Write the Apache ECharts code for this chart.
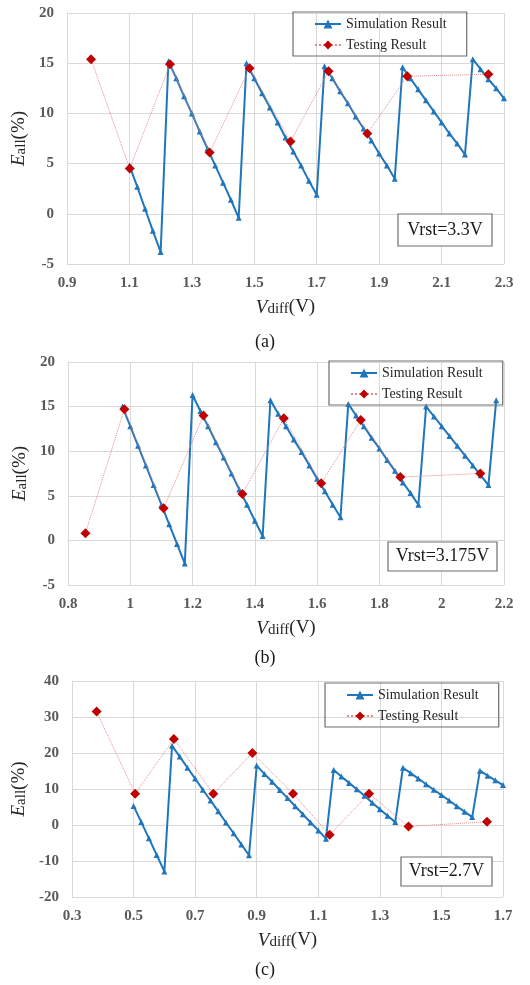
<!DOCTYPE html>
<html lang="en">
  <head>
    <meta charset="UTF-8" />
    <title>Eall vs Vdiff</title>
    <script src="https://cdn.jsdelivr.net/npm/echarts@6/dist/echarts.min.js"></script>
    <style>
      html, body { margin: 0; padding: 0; background: #fff; }
      .echarts { width: 530px; height: 985px; }
    </style>
  </head>
  <body>
    <div class="echarts"></div>
    <script>
        // (a) Vrst = 3.3V
        const simAx = [1.1, 1.125, 1.15, 1.175, 1.2,
            1.225, 1.25, 1.275, 1.3, 1.325, 1.35, 1.375, 1.4, 1.425, 1.45,
            1.475, 1.5, 1.525, 1.55, 1.575, 1.6, 1.625, 1.65, 1.675, 1.7,
            1.725, 1.75, 1.775, 1.8, 1.825, 1.85, 1.875, 1.9, 1.925, 1.95,
            1.975, 2.0, 2.025, 2.05, 2.075, 2.1, 2.125, 2.15, 2.175,
            2.2, 2.225, 2.25, 2.275, 2.3]
        const simAy = [4.8, 2.7, 0.5, -1.7, -3.8,
            15.2, 13.5, 11.7, 10.0, 8.2, 6.5, 4.8, 3.1, 1.4, -0.4,
            15.0, 13.5, 12.0, 10.6, 9.1, 7.6, 6.2, 4.8, 3.3, 1.9,
            14.7, 13.5, 12.2, 11.0, 9.7, 8.5, 7.3, 6.0, 4.8, 3.5,
            14.6, 13.5, 12.4, 11.3, 10.2, 9.1, 8.0, 7.0, 5.9,
            15.4, 14.4, 13.4, 12.5, 11.5]
        const testAx = [0.977, 1.101, 1.23, 1.357, 1.485, 1.616, 1.738, 1.862, 1.99, 2.25]
        const testAy = [15.4, 4.5, 14.9, 6.1, 14.5, 7.2, 14.2, 8.0, 13.7, 13.9]

        // (b) Vrst = 3.175V
        const simBx = [0.975, 1.0, 1.025, 1.05, 1.075, 1.1, 1.125, 1.15, 1.175,
            1.2, 1.225, 1.25, 1.275, 1.3, 1.325, 1.35, 1.375, 1.4, 1.425,
            1.45, 1.475, 1.5, 1.525, 1.55, 1.575, 1.6, 1.625, 1.65, 1.675,
            1.7, 1.725, 1.75, 1.775, 1.8, 1.825, 1.85, 1.875, 1.9, 1.925,
            1.95, 1.975, 2.0, 2.025, 2.05, 2.075, 2.1, 2.125, 2.15,
            2.175]
        const simBy = [15.0, 12.8, 10.6, 8.4, 6.2, 4.0, 1.8, -0.4, -2.6,
            16.3, 14.5, 12.8, 11.0, 9.3, 7.5, 5.7, 4.0, 2.2, 0.5,
            15.7, 14.2, 12.8, 11.3, 9.9, 8.4, 6.9, 5.5, 4.0, 2.6,
            15.3, 14.0, 12.8, 11.5, 10.3, 9.0, 7.8, 6.5, 5.3, 4.0,
            15.0, 13.9, 12.8, 11.7, 10.6, 9.5, 8.4, 7.3, 6.2,
            15.7]
        const testBx = [0.856, 0.981, 1.107, 1.235, 1.36, 1.493, 1.613, 1.74, 1.867, 2.124]
        const testBy = [0.8, 14.7, 3.6, 14.0, 5.2, 13.7, 6.4, 13.5, 7.1, 7.5]

        // (c) Vrst = 2.7V
        const simCx = [0.5, 0.525, 0.55, 0.575, 0.6,
            0.625, 0.65, 0.675, 0.7, 0.725, 0.75, 0.775, 0.8, 0.825, 0.85, 0.875,
            0.9, 0.925, 0.95, 0.975, 1.0, 1.025, 1.05, 1.075, 1.1, 1.125,
            1.15, 1.175, 1.2, 1.225, 1.25, 1.275, 1.3, 1.325, 1.35,
            1.375, 1.4, 1.425, 1.45, 1.475, 1.5, 1.525, 1.55, 1.575, 1.6,
            1.625, 1.65, 1.675, 1.7]
        const simCy = [5.3, 0.8, -3.7, -8.3, -12.9,
            22.0, 19.0, 15.9, 12.9, 9.8, 6.8, 3.8, 0.7, -2.3, -5.4, -8.4,
            16.5, 14.2, 12.0, 9.7, 7.5, 5.2, 3.0, 0.7, -1.5, -3.8,
            15.3, 13.5, 11.7, 9.9, 8.1, 6.2, 4.4, 2.6, 0.8,
            15.9, 14.4, 12.9, 11.3, 9.8, 8.3, 6.8, 5.2, 3.7, 2.2,
            15.1, 13.7, 12.4, 11.1]
        const testCx = [0.38, 0.505, 0.631, 0.759, 0.886, 1.018, 1.137, 1.265, 1.393, 1.648]
        const testCy = [31.5, 8.7, 23.9, 8.7, 20.0, 8.7, -2.7, 8.7, -0.4, 0.9]

        const panelLabels = ['(a)', '(b)', '(c)']
        const vrstLabels = ['Vrst=3.3V', 'Vrst=3.175V', 'Vrst=2.7V']
        const xRanges = [[0.9, 2.3, 0.2], [0.8, 2.2, 0.2], [0.3, 1.7, 0.2]]
        const yRanges = [[-5, 20, 5], [-5, 20, 5], [-20, 40, 10]]

        const zip = (xs, ys) => xs.map((x, i) => [x, ys[i]])
        const simData = [zip(simAx, simAy), zip(simBx, simBy), zip(simCx, simCy)]
        const testData = [zip(testAx, testAy), zip(testBx, testBy), zip(testCx, testCy)]

        const serif = '"Liberation Serif", "Times New Roman", serif'
        const blue = '#1f76bd'
        const red = '#c00000'

        // layout of the three panels (px)
        const grids = [
            {left: 67, top: 13, width: 437, height: 251},
            {left: 68, top: 362, width: 436, height: 223},
            {left: 72, top: 681, width: 431, height: 216}
        ]
        const yNameGap = [36, 37, 40]
        const legendPos = [
            {left: 293, top: 12},
            {left: 329, top: 361},
            {left: 325, top: 683}
        ]
        const vrstBox = [
            {x: 398, y: 214, w: 94, h: 32},
            {x: 388, y: 542, w: 109, h: 29},
            {x: 401, y: 857, w: 91, h: 29}
        ]
        const panelLabelY = [342, 658, 970]

        const nameRich = {
            i: {fontFamily: serif, fontStyle: 'italic', fontSize: 19, color: '#262626'},
            s: {fontFamily: serif, fontSize: 15, color: '#262626', padding: [4, 0, 0, 0]},
            n: {fontFamily: serif, fontSize: 19, color: '#262626'}
        }

        const gridLine = {lineStyle: {color: '#d9d9d9', width: 1}}
        const tickLabel = {fontFamily: serif, fontWeight: 'bold', fontSize: 15, color: '#595959'}

        const option = {
            animation: false,
            grid: grids.map((g) => Object.assign({containLabel: false}, g)),
            xAxis: xRanges.map((r, i) => ({
                type: 'value', gridIndex: i,
                min: r[0], max: r[1], interval: r[2],
                name: '{i|V}{s|diff}{n|(V)}',
                nameLocation: 'middle', nameGap: 34,
                nameTextStyle: {rich: nameRich},
                axisLine: {show: true, lineStyle: {color: '#d9d9d9'}},
                axisTick: {show: false},
                axisLabel: Object.assign({margin: 12}, tickLabel),
                splitLine: gridLine
            })),
            yAxis: yRanges.map((r, i) => ({
                type: 'value', gridIndex: i,
                min: r[0], max: r[1], interval: r[2],
                name: '{i|E}{s|all}{n|(%)}',
                nameLocation: 'middle', nameGap: yNameGap[i],
                nameTextStyle: {rich: nameRich},
                axisLine: {show: true, lineStyle: {color: '#d9d9d9'}},
                axisTick: {show: false},
                axisLabel: Object.assign({margin: 13}, tickLabel),
                splitLine: gridLine
            })),
            legend: legendPos.map((p) => ({
                left: p.left, top: p.top,
                orient: 'vertical',
                data: ['Simulation Result', 'Testing Result'],
                itemWidth: 26, itemHeight: 11, itemGap: 7,
                padding: [5, 20, 4, 21],
                borderColor: '#6e6e6e', borderWidth: 1.2,
                textStyle: {fontFamily: serif, fontSize: 14, color: '#262626'}
            })),
            series: [0, 1, 2].flatMap((i) => [
                {
                    name: 'Simulation Result', type: 'line',
                    xAxisIndex: i, yAxisIndex: i,
                    data: simData[i],
                    symbol: 'triangle', symbolSize: 6,
                    lineStyle: {color: blue, width: 2},
                    itemStyle: {color: blue},
                    z: 2
                },
                {
                    name: 'Testing Result', type: 'line',
                    xAxisIndex: i, yAxisIndex: i,
                    data: testData[i],
                    symbol: 'diamond', symbolSize: 10,
                    lineStyle: {color: '#e28a8a', width: 1, type: 'dotted'},
                    itemStyle: {color: red},
                    z: 3
                }
            ]),
            graphic: [0, 1, 2].flatMap((i) => [
                {
                    type: 'rect',
                    shape: {x: vrstBox[i].x, y: vrstBox[i].y, width: vrstBox[i].w, height: vrstBox[i].h},
                    style: {fill: '#fff', stroke: '#6e6e6e', lineWidth: 1.2},
                    z: 10
                },
                {
                    type: 'text',
                    x: vrstBox[i].x + vrstBox[i].w / 2, y: vrstBox[i].y + vrstBox[i].h / 2,
                    style: {text: vrstLabels[i], font: '18px ' + serif, fill: '#1a1a1a',
                        textAlign: 'center', textVerticalAlign: 'middle'},
                    z: 11
                },
                {
                    type: 'text',
                    x: 265, y: panelLabelY[i],
                    style: {text: panelLabels[i], font: '18px ' + serif, fill: '#1a1a1a',
                        textAlign: 'center', textVerticalAlign: 'middle'}
                }
            ])
        }

        const myCharts = echarts.init(document.querySelector('.echarts'))
        myCharts.setOption(option)
    </script>
  </body>
</html>
